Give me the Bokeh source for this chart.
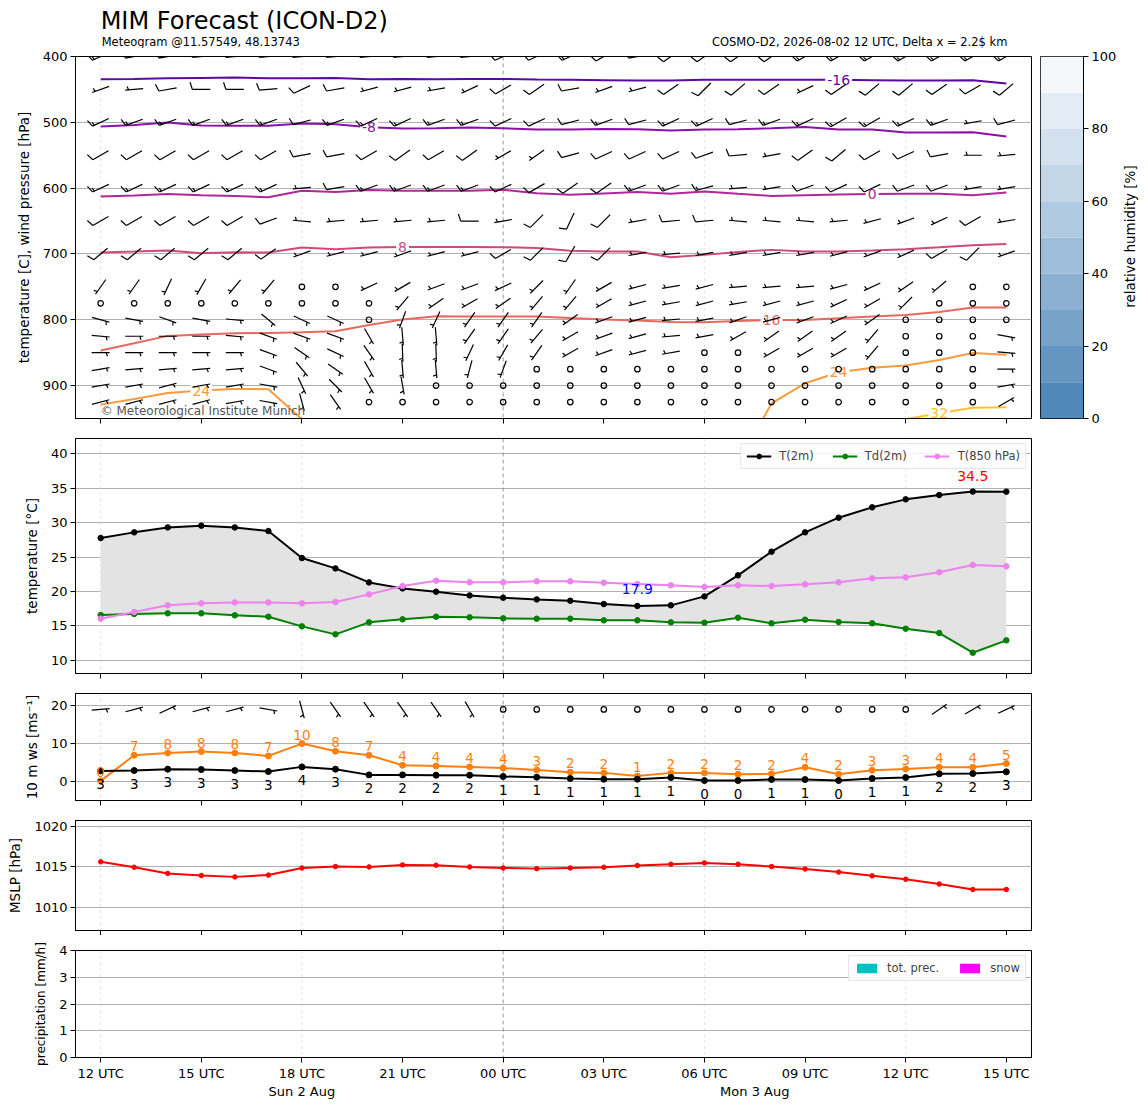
import math
from bokeh.plotting import figure
from bokeh.layouts import column, row
from bokeh.models import Range1d, FixedTicker, LinearAxis, Span, Legend, LegendItem
from bokeh.core.properties import value
from bokeh.embed import file_html
from bokeh.resources import INLINE

FONT = "DejaVu Sans"
NAN = float("nan")

# time axis: hours after 2026-08-02 12 UTC
hours = list(range(28))
xtick_hours = [0, 3, 6, 9, 12, 15, 18, 21, 24, 27]
xtick_labels = ["12 UTC", "15 UTC", "18 UTC", "21 UTC", "00 UTC",
                "03 UTC", "06 UTC", "09 UTC", "12 UTC", "15 UTC"]
day_ticks = [6, 19.5]
day_labels = ["Sun 2 Aug", "Mon 3 Aug"]
sixhour_lines = [0, 6, 18, 24]
midnight_lines = [12]

# --- upper panel: temperature contours (pressure of isotherm per hour) ---
contour_levels = [-16, -8, 0, 8, 16, 24, 32]
contour_colors = ["#5d08a3", "#8a10a8", "#b0279a", "#d0497a", "#e8695d", "#f99a3e", "#fcc22c"]
c_m16 = [434.5, 434, 433, 432.5, 432, 433, 433, 432.5, 434.5, 434, 434.5, 434, 434, 435,
         435.5, 436, 436.5, 436.5, 435.5, 435.5, 435.5, 435.5, 435.5, 436, 436.5, 436.5, 436, 441]
c_m8 = [506.4, 503.9, 500.3, 504.9, 505.4, 505.4, 501.8, 502.8, 507.4, 509.4, 509, 508, 509, 511,
        511, 510, 510.4, 512.5, 511, 510.4, 509, 507, 511, 511, 515.5, 515.5, 515, 521.6]
c_0 = [612.8, 611, 609, 610.7, 611.8, 613.8, 604, 606, 603, 604, 604, 604, 602.6, 607.7,
       610, 608, 606, 608.7, 605, 608.7, 611.8, 610.7, 609.7, 609, 608.7, 608.7, 610.7, 606.7]
c_8 = [697.9, 696.4, 694.8, 698.9, 697.4, 697.9, 690.3, 692.8, 690.3, 689.3, 689.3, 689.3, 689.8, 690.8,
       695.3, 696.4, 696.4, 705, 701.4, 696.9, 693.8, 696.4, 696.4, 694.8, 692.8, 689.8, 686.7, 684.7]
c_16 = [846.8, 835.7, 824.5, 822.5, 820.5, 820, 819, 817.5, 807.8, 799.7, 794.7, 795, 795, 795,
        797.2, 799.7, 801.2, 803.2, 803.7, 801.7, 800.2, 800.2, 797.7, 795.2, 792.7, 788.2, 781.5, 781.5]
c_24 = [928.9, 920.3, 911.2, 907.6, 905, 905.5, 951, NAN, NAN, NAN, NAN, NAN, NAN, NAN,
        NAN, NAN, NAN, NAN, NAN, 1020, 927, 896.5, 879.7, 873, 869.6, 861, 850.4, 853]
c_32 = [NAN, NAN, NAN, NAN, NAN, NAN, NAN, NAN, NAN, NAN, NAN, NAN, NAN, NAN,
        NAN, NAN, NAN, NAN, NAN, NAN, NAN, NAN, NAN, NAN, 951, 942, 933.5, 933]
contour_lines = [c_m16, c_m8, c_0, c_8, c_16, c_24, c_32]
label_contour = [0, 1, 2, 3, 4, 5, 5, 6]
label_hours = [22, 8, 23, 9, 20, 3, 22, 25]

# --- upper panel: wind barbs, direction (deg, from) and speed (kt) per level ---
levels = [400, 450, 500, 550, 600, 650, 700, 750, 775, 800, 825, 850, 875, 900, 925]
wdir_400 = [245, 260, 260, 265, 265, 265, 265, 265, 265, 265, 265, 265, 245, 245,
            245, 240, 260, 235, 235, 235, 235, 240, 240, 240, 240, 240, 240, 240]
wspd_400 = [15, 15, 15, 15, 15, 15, 15, 15, 15, 15, 15, 15, 10, 10,
            15, 10, 15, 10, 10, 10, 10, 15, 15, 15, 15, 15, 15, 15]
wdir_450 = [250, 265, 260, 270, 270, 265, 245, 260, 255, 255, 260, 245, 240, 235,
            260, 250, 255, 235, 225, 230, 235, 245, 235, 230, 230, 235, 240, 230]
wspd_450 = [5, 5, 10, 10, 10, 10, 10, 10, 5, 5, 5, 5, 10, 10,
            10, 5, 5, 10, 10, 10, 10, 5, 10, 10, 10, 10, 10, 10]
wdir_500 = [245, 250, 250, 250, 250, 250, 255, 250, 245, 245, 250, 250, 245, 245,
            255, 250, 255, 245, 245, 255, 250, 245, 240, 240, 245, 250, 260, 255]
wspd_500 = [15, 15, 15, 15, 15, 15, 10, 15, 15, 15, 15, 15, 10, 10,
            10, 15, 10, 15, 15, 10, 15, 15, 15, 15, 15, 15, 5, 10]
wdir_550 = [240, 240, 240, 240, 240, 240, 260, 260, 240, 235, 240, 235, 240, 235,
            255, 245, 245, 245, 250, 265, 260, 235, 230, 240, 245, 260, 270, 265]
wspd_550 = [10, 10, 10, 10, 10, 10, 10, 10, 10, 10, 10, 10, 5, 5,
            10, 10, 10, 10, 10, 10, 5, 10, 10, 10, 10, 10, 5, 5]
wdir_600 = [245, 245, 245, 245, 245, 245, 265, 260, 250, 250, 250, 250, 245, 240,
            235, 235, 250, 250, 255, 265, 260, 250, 245, 245, 250, 250, 260, 260]
wspd_600 = [15, 15, 15, 15, 15, 15, 5, 10, 15, 15, 15, 15, 10, 10,
            10, 10, 15, 15, 15, 5, 5, 10, 10, 10, 10, 10, 5, 5]
wdir_650 = [240, 240, 240, 240, 240, 250, 275, 265, 265, 265, 265, 270, 260, 225,
            205, 225, 260, 265, 265, 275, 275, 275, 265, 255, 250, 245, 240, 260]
wspd_650 = [10, 10, 10, 10, 10, 10, 5, 5, 5, 5, 5, 10, 5, 10,
            10, 10, 5, 10, 10, 5, 5, 5, 5, 5, 5, 5, 10, 5]
wdir_700 = [230, 230, 230, 230, 230, 235, 250, 255, 255, 250, 255, 255, 240, 225,
            210, 225, 260, 265, 260, 260, 260, 260, 255, 250, 245, 240, 225, 250]
wspd_700 = [10, 10, 10, 10, 10, 10, 5, 5, 5, 5, 5, 5, 10, 10,
            10, 10, 5, 5, 5, 5, 5, 5, 5, 5, 5, 10, 10, 5]
wdir_750 = [215, 215, 205, 210, 220, 220, 0, 0, 245, 240, 250, 250, 245, 225,
            215, 240, 255, 260, 255, 265, 265, 265, 255, 245, 235, 230, 0, 0]
wspd_750 = [5, 5, 5, 5, 5, 5, 0, 0, 5, 5, 5, 5, 5, 5,
            5, 5, 5, 5, 5, 5, 5, 5, 5, 5, 5, 5, 0, 0]
wdir_775 = [0, 0, 0, 0, 0, 0, 0, 0, 0, 220, 235, 240, 235, 220,
            220, 240, 255, 260, 255, 260, 255, 255, 245, 240, 225, 0, 0, 0]
wspd_775 = [0, 0, 0, 0, 0, 0, 0, 0, 0, 5, 5, 5, 5, 5,
            5, 5, 5, 5, 5, 5, 5, 5, 5, 5, 5, 0, 0, 0]
wdir_800 = [105, 100, 110, 100, 95, 130, 115, 115, 0, 200, 205, 215, 215, 215,
            235, 250, 255, 265, 260, 250, 255, 250, 245, 235, 0, 0, 0, 0]
wspd_800 = [5, 5, 5, 5, 5, 5, 5, 5, 0, 5, 5, 5, 5, 5,
            5, 5, 5, 5, 5, 5, 5, 5, 5, 5, 0, 0, 0, 0]
wdir_825 = [95, 90, 90, 90, 95, 110, 110, 110, 150, 175, 175, 215, 215, 220,
            240, 250, 255, 265, 260, 240, 235, 235, 235, 220, 0, 0, 0, 100]
wspd_825 = [5, 5, 5, 5, 5, 5, 5, 5, 5, 5, 5, 5, 5, 5,
            5, 5, 5, 5, 5, 5, 5, 5, 5, 5, 0, 0, 0, 5]
wdir_850 = [90, 90, 90, 90, 90, 110, 125, 115, 145, 178, 178, 205, 210, 215,
            240, 250, 255, 260, 0, 0, 240, 240, 240, 220, 0, 0, 0, 95]
wspd_850 = [5, 5, 5, 5, 5, 5, 5, 5, 5, 5, 5, 5, 5, 5,
            5, 5, 5, 5, 0, 0, 5, 5, 5, 5, 0, 0, 0, 5]
wdir_875 = [80, 85, 85, 85, 85, 110, 140, 125, 150, 175, 175, 195, 200, 0,
            0, 0, 0, 0, 0, 0, 0, 0, 0, 0, 0, 0, 0, 90]
wspd_875 = [5, 5, 5, 5, 5, 5, 5, 5, 5, 5, 5, 5, 5, 0,
            0, 0, 0, 0, 0, 0, 0, 0, 0, 0, 0, 0, 0, 5]
wdir_900 = [80, 80, 75, 80, 80, 100, 155, 135, 150, 170, 0, 0, 0, 0,
            0, 0, 0, 0, 0, 0, 0, 0, 0, 0, 0, 0, 0, 80]
wspd_900 = [5, 5, 5, 5, 5, 5, 5, 5, 5, 5, 0, 0, 0, 0,
            0, 0, 0, 0, 0, 0, 0, 0, 0, 0, 0, 0, 0, 5]
wdir_925 = [75, 75, 75, 75, 80, 100, 165, 145, 0, 0, 0, 0, 0, 0,
            0, 0, 0, 0, 0, 0, 0, 0, 0, 0, 0, 0, 0, 60]
wspd_925 = [5, 5, 5, 5, 5, 5, 5, 5, 0, 0, 0, 0, 0, 0,
            0, 0, 0, 0, 0, 0, 0, 0, 0, 0, 0, 0, 0, 5]
wdir_rows = [wdir_400, wdir_450, wdir_500, wdir_550, wdir_600, wdir_650, wdir_700, wdir_750,
             wdir_775, wdir_800, wdir_825, wdir_850, wdir_875, wdir_900, wdir_925]
wspd_rows = [wspd_400, wspd_450, wspd_500, wspd_550, wspd_600, wspd_650, wspd_700, wspd_750,
             wspd_775, wspd_800, wspd_825, wspd_850, wspd_875, wspd_900, wspd_925]

# relative humidity colour bar
rh_levels = [0, 10, 20, 30, 40, 50, 60, 70, 80, 90, 100]
rh_colors = ["#5088b9", "#6496c1", "#78a3c9", "#8bb0d1", "#9dbdd9",
             "#b0cae1", "#c2d6e8", "#d3e1ee", "#e3ecf5", "#f4f8fb"]

# --- 2 m temperatures ---
t2m = [27.76, 28.58, 29.3, 29.55, 29.3, 28.77, 24.85, 23.35, 21.32, 20.45, 19.97, 19.43, 19.1, 18.85,
       18.66, 18.18, 17.9, 17.99, 19.29, 22.34, 25.78, 28.58, 30.71, 32.21, 33.37, 34.0, 34.5, 34.48]
td2m = [16.58, 16.73, 16.83, 16.83, 16.54, 16.34, 14.94, 13.78, 15.52, 15.96, 16.34, 16.25, 16.1, 16.05,
        16.05, 15.81, 15.81, 15.52, 15.47, 16.2, 15.38, 15.91, 15.57, 15.38, 14.6, 13.97, 11.12, 12.91]
t850 = [16.05, 17.02, 17.99, 18.28, 18.42, 18.42, 18.28, 18.47, 19.58, 20.79, 21.57, 21.33, 21.33, 21.47,
        21.47, 21.28, 21.08, 20.89, 20.65, 20.89, 20.79, 21.04, 21.33, 21.91, 22.05, 22.78, 23.84, 23.65]

# --- 10 m wind (m/s) and barbs ---
ws10 = [2.8, 2.9, 3.25, 3.16, 2.9, 2.63, 3.86, 3.25, 1.75, 1.75, 1.67, 1.67, 1.32, 1.14,
        0.79, 0.61, 0.61, 1.05, 0.26, 0.26, 0.53, 0.53, 0.26, 0.79, 1.05, 2.02, 2.1, 2.55]
gust10 = [0.18, 6.93, 7.54, 7.9, 7.54, 6.75, 10.0, 7.98, 6.93, 4.3, 4.12, 3.86, 3.55, 3.07,
          2.45, 2.28, 1.45, 2.28, 2.28, 1.93, 2.02, 3.77, 1.93, 2.98, 3.33, 3.77, 3.77, 4.74]
w10_dir = [85, 75, 65, 75, 75, 100, 165, 145, 145, 145, 145, 150, 0, 0,
           0, 0, 0, 0, 0, 0, 0, 0, 0, 0, 0, 55, 60, 65]
w10_kt = [5, 5, 5, 5, 5, 5, 5, 5, 5, 5, 5, 5, 0, 0,
          0, 0, 0, 0, 0, 0, 0, 0, 0, 0, 0, 5, 5, 5]
w10_row = 19

# --- MSLP ---
mslp = [1015.59, 1014.92, 1014.16, 1013.9, 1013.73, 1013.95, 1014.83, 1015.0, 1014.96, 1015.21,
        1015.17, 1014.96, 1014.83, 1014.75, 1014.83, 1014.92, 1015.13, 1015.3, 1015.46, 1015.3,
        1015.0, 1014.7, 1014.32, 1013.86, 1013.44, 1012.85, 1012.17, 1012.17]

# --- precipitation (mm/h) ---
precip = [0, 0, 0, 0, 0, 0, 0, 0, 0, 0, 0, 0, 0, 0, 0, 0, 0, 0, 0, 0, 0, 0, 0, 0, 0, 0, 0, 0]
snow = [0, 0, 0, 0, 0, 0, 0, 0, 0, 0, 0, 0, 0, 0, 0, 0, 0, 0, 0, 0, 0, 0, 0, 0, 0, 0, 0, 0]

FRAME_W = 956
LEFT = 75
X0, X1 = -0.75, 27.75
PX_X = FRAME_W / (X1 - X0)
BARB_LEN = 18.0


def barbs(xs, ys, dirs, spds, px_x, px_y):
    # matplotlib-like barbs (pivot middle), built in pixels and mapped back to data
    L = BARB_LEN
    seg = dict(x0=[], y0=[], x1=[], y1=[])
    calm_x, calm_y = [], []
    for x, y, d, s in zip(xs, ys, dirs, spds):
        if s < 5:
            calm_x.append(x)
            calm_y.append(y)
            continue
        r = math.radians(d)
        ux, uy = math.sin(r), math.cos(r)
        fx, fy = math.cos(r), -math.sin(r)

        def pt(a, b):
            dx = (a - L / 2) * ux + b * fx
            dy = (a - L / 2) * uy + b * fy
            return x + dx / px_x, y + dy / px_y

        def add(p0, p1):
            seg["x0"].append(p0[0])
            seg["y0"].append(p0[1])
            seg["x1"].append(p1[0])
            seg["y1"].append(p1[1])

        add(pt(0, 0), pt(L, 0))
        nfull = s // 10
        half = s % 10 >= 5
        off = L
        for i in range(nfull):
            add(pt(off, 0), pt(off + 0.125 * L, 0.4 * L))
            off -= 0.125 * L
        if half:
            if nfull == 0:
                off -= 1.5 * 0.125 * L
            add(pt(off, 0), pt(off + 0.0625 * L, 0.2 * L))
    return seg, calm_x, calm_y


def make_panel(frame_h, y_range, yticks, ylabel, top=10, bottom=10, xlabels=False, label_size="13.5px"):
    p = figure(frame_width=FRAME_W, frame_height=frame_h, x_range=Range1d(X0, X1), y_range=y_range,
               output_backend="svg", toolbar_location=None, min_border_left=LEFT, min_border_right=4,
               min_border_top=top, min_border_bottom=bottom)
    p.outline_line_color = "black"
    p.outline_line_width = 1
    p.xgrid.visible = False
    p.yaxis.ticker = FixedTicker(ticks=yticks)
    p.ygrid.ticker = p.yaxis[0].ticker
    p.ygrid.grid_line_color = "#b0b0b0"
    p.ygrid.grid_line_width = 1
    p.xaxis.ticker = FixedTicker(ticks=xtick_hours)
    for ax in p.axis:
        ax.axis_line_color = "black"
        ax.major_tick_out = 5
        ax.major_tick_in = 0
        ax.minor_tick_out = 0
        ax.minor_tick_in = 0
        ax.major_tick_line_color = "black"
        ax.major_label_text_font = FONT
        ax.major_label_text_font_size = "13px"
        ax.major_label_text_color = "black"
        ax.axis_label_text_font = FONT
        ax.axis_label_text_font_size = label_size
        ax.axis_label_text_font_style = "normal"
        ax.axis_label_text_color = "black"
    p.yaxis.major_label_standoff = 3
    p.yaxis.axis_label_standoff = 8
    p.yaxis.axis_label = ylabel
    if xlabels:
        p.xaxis.major_label_overrides = dict(zip(xtick_hours, xtick_labels))
        p.xaxis.major_label_standoff = 3
        days = LinearAxis(ticker=FixedTicker(ticks=day_ticks),
                          major_label_overrides=dict(zip(day_ticks, day_labels)),
                          axis_line_color=None, major_tick_line_color=None, minor_tick_line_color=None,
                          major_tick_out=0, major_label_standoff=0,
                          major_label_text_font=FONT, major_label_text_font_size="13px",
                          major_label_text_color="black")
        p.add_layout(days, "below")
    else:
        p.xaxis.major_label_overrides = {h: "" for h in xtick_hours}
        p.xaxis.major_label_text_font_size = "0px"
        p.xaxis.major_label_standoff = 0
    for h in sixhour_lines:
        p.add_layout(Span(location=h, dimension="height", line_color="#cfcfcf", line_width=0.8,
                          line_dash="dotted", level="underlay"))
    for h in midnight_lines:
        p.add_layout(Span(location=h, dimension="height", line_color="#7f7f7f", line_width=0.8,
                          line_dash="4 3", level="underlay"))
    return p


def style_legend(lg):
    lg.location = "top_right"
    lg.orientation = "horizontal"
    lg.label_text_font = FONT
    lg.label_text_font_size = "11.5px"
    lg.border_line_color = "#cccccc"
    lg.background_fill_alpha = 0.85
    lg.glyph_width = 25
    lg.glyph_height = 12
    lg.label_standoff = 8
    lg.spacing = 18
    lg.padding = 5
    lg.margin = 5


def ctext(p, **kw):
    try:
        return p.text(**kw)
    except Exception:
        for k in ("background_fill_color", "padding"):
            kw.pop(k, None)
        return p.text(**kw)


# header with titles, laid out on the same time axis as the panels
head = figure(frame_width=FRAME_W, frame_height=48, x_range=Range1d(X0, X1), y_range=Range1d(0, 48),
              x_axis_location=None, y_axis_location=None, min_border_left=LEFT, min_border_right=4,
              min_border_top=0, min_border_bottom=0,
              toolbar_location=None, output_backend="svg", outline_line_color=None)
head.grid.visible = False
head.text(x=[0], y=[28], text=["MIM Forecast (ICON-D2)"], text_font=value(FONT),
          text_font_size="24px", text_align="left", text_baseline="middle", text_color="black")
head.text(x=[0], y=[7], text=["Meteogram @11.57549, 48.13743"], text_font=value(FONT),
          text_font_size="11.5px", text_align="left", text_baseline="middle", text_color="black",
          x_offset=1)
head.text(x=[27], y=[7], text=["COSMO-D2, 2026-08-02 12 UTC, Delta x = 2.2$ km"], text_font=value(FONT),
          text_font_size="11.5px", text_align="right", text_baseline="middle", text_color="black",
          x_offset=1)

# panel 1: temperature contours and wind barbs on pressure levels
upper = make_panel(362, Range1d(950, 400), [400, 500, 600, 700, 800, 900],
                   "temperature [C], wind pressure [hPa]", top=8)
for line_p, col in zip(contour_lines, contour_colors):
    upper.line(hours, line_p, line_color=col, line_width=2)
lab_y = [contour_lines[k][h] for k, h in zip(label_contour, label_hours)]
lab_txt = [str(contour_levels[k]) for k in label_contour]
lab_col = [contour_colors[k] for k in label_contour]
ctext(upper, x=label_hours, y=lab_y, text=lab_txt, text_color=lab_col, text_font=value(FONT),
      text_font_size="14px", text_align="center", text_baseline="middle",
      background_fill_color="white", padding=2)
bx, by, bd, bs = [], [], [], []
for lv, dl, sl in zip(levels, wdir_rows, wspd_rows):
    for h, d, s in zip(hours, dl, sl):
        bx.append(h)
        by.append(lv)
        bd.append(d)
        bs.append(s)
seg, cx, cy = barbs(bx, by, bd, bs, PX_X, -362 / 550.0)
upper.segment(x0=seg["x0"], y0=seg["y0"], x1=seg["x1"], y1=seg["y1"], line_color="black", line_width=1.2)
upper.scatter(cx, cy, marker="circle", size=5.5, fill_color=None, line_color="black", line_width=1.2)
upper.text(x=[0], y=[950], text=["\u00a9 Meteorological Institute Munich"], text_font=value(FONT),
           text_font_size="12px", text_color="#555555", text_align="left", text_baseline="bottom",
           y_offset=-1)

# colour bar for relative humidity
cbar = figure(frame_width=43, frame_height=362, x_range=Range1d(0, 1), y_range=Range1d(0, 100),
              x_axis_location=None, y_axis_location="right", min_border_left=5, min_border_right=36,
              min_border_top=8, min_border_bottom=10, toolbar_location=None, output_backend="svg")
cbar.grid.visible = False
cbar.outline_line_color = "black"
cbar.quad(left=0, right=1, bottom=rh_levels[:-1], top=rh_levels[1:], fill_color=rh_colors, line_color=None)
cbar.yaxis.ticker = FixedTicker(ticks=[0, 20, 40, 60, 80, 100])
cbar.yaxis.major_tick_out = 5
cbar.yaxis.major_tick_in = 0
cbar.yaxis.minor_tick_out = 0
cbar.yaxis.minor_tick_in = 0
cbar.yaxis.axis_line_color = "black"
cbar.yaxis.major_label_standoff = 3
cbar.yaxis.major_label_text_font = FONT
cbar.yaxis.major_label_text_font_size = "13px"
cbar.yaxis.major_label_text_color = "black"

cblab = figure(width=20, height=380, x_range=Range1d(0, 20), y_range=Range1d(0, 380),
               x_axis_location=None, y_axis_location=None, min_border=0,
               toolbar_location=None, output_backend="svg", outline_line_color=None)
cblab.grid.visible = False
cblab.text(x=[10], y=[191], text=["relative humidity [%]"], angle=math.pi / 2, text_font=value(FONT),
           text_font_size="13.5px", text_align="center", text_baseline="middle", text_color="black")

# panel 2: 2 m temperature, dew point and 850 hPa temperature
temp = make_panel(235, Range1d(8.1, 42.2), [10, 15, 20, 25, 30, 35, 40], "temperature [\u00b0C]")
temp.varea(x=hours, y1=td2m, y2=t2m, fill_color="#e3e3e3")
items = []
for ser, col, name in ((t2m, "black", "T(2m)"), (td2m, "green", "Td(2m)"), (t850, "violet", "T(850 hPa)")):
    ln = temp.line(hours, ser, line_color=col, line_width=2)
    sc = temp.scatter(hours, ser, size=5.5, color=col)
    items.append(LegendItem(label=name, renderers=[ln, sc]))
leg = Legend(items=items)
style_legend(leg)
temp.add_layout(leg)
imin = t2m.index(min(t2m))
imax = t2m.index(max(t2m))
temp.text(x=[imin], y=[t2m[imin]], text=["%.1f" % t2m[imin]], text_color="blue", text_font=value(FONT),
          text_font_size="14px", text_align="center", text_baseline="middle", y_offset=-17)
temp.text(x=[imax], y=[t2m[imax]], text=["%.1f" % t2m[imax]], text_color="red", text_font=value(FONT),
          text_font_size="14px", text_align="center", text_baseline="middle", y_offset=-16)

# panel 3: 10 m wind speed, gusts and barbs
wind = make_panel(107, Range1d(-5, 23.2), [0, 10, 20], "10 m ws [ms\u207b\u00b9]")
wind.line(hours, gust10, line_color="#ff7f0e", line_width=2)
wind.scatter(hours, gust10, size=6, color="#ff7f0e")
wind.line(hours, ws10, line_color="black", line_width=2)
wind.scatter(hours, ws10, size=6, color="black")
wind.text(x=hours, y=gust10, text=["%.0f" % v for v in gust10], text_color="#ff7f0e", text_font=value(FONT),
          text_font_size="13.5px", text_align="center", text_baseline="bottom", y_offset=-4)
wind.text(x=hours, y=ws10, text=["%.0f" % v for v in ws10], text_color="black", text_font=value(FONT),
          text_font_size="13.5px", text_align="center", text_baseline="top", y_offset=8)
seg, cx, cy = barbs(hours, [w10_row] * len(hours), w10_dir, w10_kt, PX_X, 107 / 28.2)
wind.segment(x0=seg["x0"], y0=seg["y0"], x1=seg["x1"], y1=seg["y1"], line_color="black", line_width=1.2)
wind.scatter(cx, cy, marker="circle", size=5.5, fill_color=None, line_color="black", line_width=1.2)

# panel 4: mean sea level pressure
pres = make_panel(110, Range1d(1007.1, 1020.7), [1010, 1015, 1020], "MSLP [hPa]", bottom=5)
pres.line(hours, mslp, line_color="red", line_width=2)
pres.scatter(hours, mslp, size=4.5, color="red")

# panel 5: precipitation
rain = make_panel(107, Range1d(0, 4), [0, 1, 2, 3, 4], "precipitation [mm/h]", top=15, bottom=40,
                  xlabels=True, label_size="12px")
rp = rain.vbar(x=hours, top=precip, width=0.8, fill_color="#00bfbf", line_color=None)
sp = rain.vbar(x=hours, top=snow, width=0.8, fill_color="#ff00ff", line_color=None)
leg2 = Legend(items=[LegendItem(label="tot. prec.", renderers=[rp]), LegendItem(label="snow", renderers=[sp])])
style_legend(leg2)
rain.add_layout(leg2)

layout = column(head, row(upper, cbar, cblab), temp, wind, pres, rain)
open("out.html", "w").write(file_html(layout, INLINE))
